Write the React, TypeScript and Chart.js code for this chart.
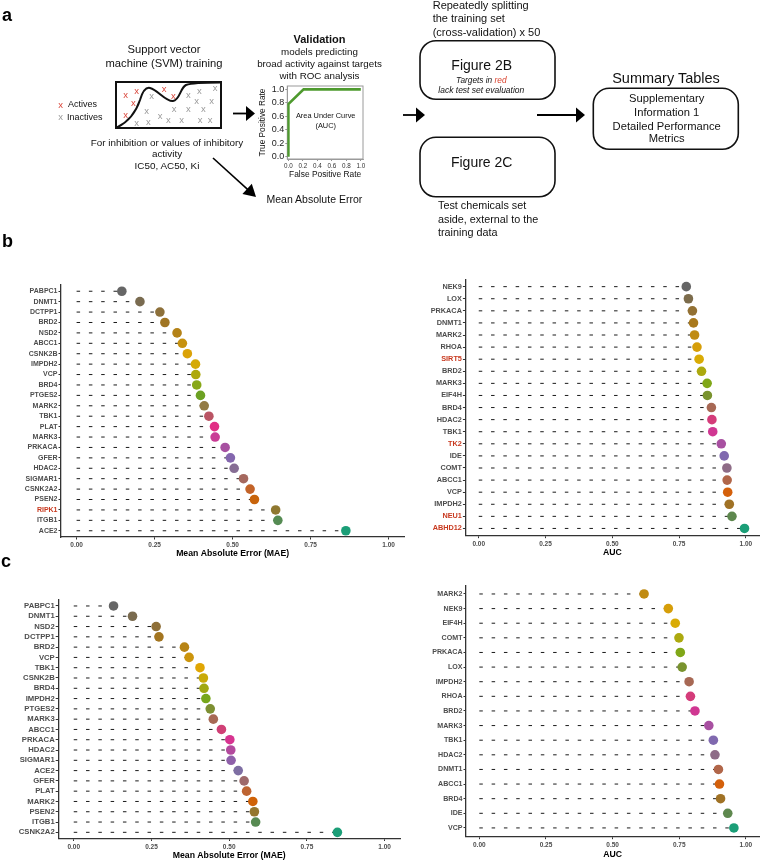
import React, { useEffect, useRef } from 'react';
import { Chart, registerables } from 'chart.js';

Chart.register(...registerables);

const FONT = "'Liberation Sans', Arial, Helvetica, sans-serif";
const GREY_TXT = '#4d4d4d';
const RED_TXT = '#c8391f';

// ---------- Panel b (cross-validation) ----------
const bMaeTargets = ['PABPC1', 'DNMT1', 'DCTPP1', 'BRD2', 'NSD2', 'ABCC1', 'CSNK2B', 'IMPDH2', 'VCP', 'BRD4', 'PTGES2', 'MARK2', 'TBK1', 'PLAT', 'MARK3', 'PRKACA', 'GFER', 'HDAC2', 'SIGMAR1', 'CSNK2A2', 'PSEN2', 'RIPK1', 'ITGB1', 'ACE2'];
const bMaeValues = [0.145, 0.203, 0.267, 0.283, 0.322, 0.339, 0.355, 0.381, 0.382, 0.385, 0.397, 0.409, 0.424, 0.442, 0.444, 0.476, 0.493, 0.505, 0.535, 0.556, 0.570, 0.638, 0.645, 0.863];

const bAucTargets = ['NEK9', 'LOX', 'PRKACA', 'DNMT1', 'MARK2', 'RHOA', 'SIRT5', 'BRD2', 'MARK3', 'EIF4H', 'BRD4', 'HDAC2', 'TBK1', 'TK2', 'IDE', 'COMT', 'ABCC1', 'VCP', 'IMPDH2', 'NEU1', 'ABHD12'];
const bAucValues = [0.777, 0.785, 0.800, 0.804, 0.808, 0.817, 0.825, 0.834, 0.855, 0.856, 0.871, 0.873, 0.876, 0.908, 0.919, 0.929, 0.930, 0.932, 0.938, 0.948, 0.995];

// ---------- Panel c (external test set) ----------
const cMaeTargets = ['PABPC1', 'DNMT1', 'NSD2', 'DCTPP1', 'BRD2', 'VCP', 'TBK1', 'CSNK2B', 'BRD4', 'IMPDH2', 'PTGES2', 'MARK3', 'ABCC1', 'PRKACA', 'HDAC2', 'SIGMAR1', 'ACE2', 'GFER', 'PLAT', 'MARK2', 'PSEN2', 'ITGB1', 'CSNK2A2'];
const cMaeValues = [0.128, 0.189, 0.265, 0.274, 0.356, 0.371, 0.406, 0.417, 0.419, 0.425, 0.439, 0.449, 0.475, 0.502, 0.505, 0.506, 0.529, 0.548, 0.556, 0.576, 0.581, 0.585, 0.848];

const cAucTargets = ['MARK2', 'NEK9', 'EIF4H', 'COMT', 'PRKACA', 'LOX', 'IMPDH2', 'RHOA', 'BRD2', 'MARK3', 'TBK1', 'HDAC2', 'DNMT1', 'ABCC1', 'BRD4', 'IDE', 'VCP'];
const cAucValues = [0.618, 0.709, 0.735, 0.749, 0.754, 0.761, 0.787, 0.792, 0.809, 0.861, 0.878, 0.884, 0.897, 0.901, 0.905, 0.932, 0.955];

const redTargets = ['RIPK1', 'SIRT5', 'TK2', 'NEU1', 'ABHD12'];
const xTickValues = [0, 0.25, 0.5, 0.75, 1];

// ---------- ROC inset (panel a) ----------
const rocFpr = [0, 0, 0.21, 1];
const rocTpr = [0, 0.78, 1, 1];
const rocTickValues = [0, 0.2, 0.4, 0.6, 0.8, 1];

// colour ramp stops (reversed Dark2)
const paletteStops = ['#666666', '#A6761D', '#E6AB02', '#66A61E', '#E7298A', '#7570B3', '#D95F02', '#1B9E77'];

function ramp(n: number): string[] {
  const cols = paletteStops.map((h) => [1, 3, 5].map((k) => parseInt(h.slice(k, k + 2), 16)));
  const out: string[] = [];
  for (let i = 0; i < n; i++) {
    const p = n === 1 ? 0 : (i / (n - 1)) * (cols.length - 1);
    const k = Math.min(Math.floor(p), cols.length - 2);
    const t = p - k;
    const c = cols[k].map((v, j) => Math.round(v + (cols[k + 1][j] - v) * t));
    out.push(`rgb(${c[0]},${c[1]},${c[2]})`);
  }
  return out;
}

type LollipopProps = {
  left: number; width: number;
  plotTop: number; plotBottom: number; bottom: number;
  yAxisWidth: number;
  targets: string[]; values: number[]; colors: string[];
  xTitle: string; labelSize: number;
};

const PAD_TOP = 8;

function Lollipop(p: LollipopProps) {
  const ref = useRef<HTMLCanvasElement>(null);
  const canvasTop = Math.floor(p.plotTop - PAD_TOP);
  const padTop = p.plotTop - canvasTop;
  const height = Math.round(p.bottom - canvasTop);
  const xAxisHeight = canvasTop + height - p.plotBottom;
  useEffect(() => {
    const n = p.targets.length;
    const axisGrid = { display: true, drawOnChartArea: false, drawTicks: true, tickLength: 2.5, color: '#333', lineWidth: 1 };
    const axisBorder = { display: true, color: '#333', width: 1.3 };
    const chart = new Chart(ref.current as HTMLCanvasElement, {
      type: 'scatter',
      data: {
        datasets: [
          {
            type: 'scatter',
            data: p.values.map((v, i) => ({ x: v, y: i })),
            pointRadius: 4.8,
            pointHoverRadius: 4.8,
            pointBackgroundColor: p.colors,
            pointBorderColor: p.colors,
            pointBorderWidth: 0,
          } as any,
          {
            type: 'line',
            data: p.values.flatMap((v, i) => [{ x: 0, y: i }, { x: v, y: i }, { x: null, y: null }]),
            borderColor: '#1a1a1a',
            borderWidth: 1,
            borderDash: [3.5, 8.8],
            pointRadius: 0,
            spanGaps: false,
            fill: false,
            tension: 0,
          } as any,
        ],
      },
      options: {
        animation: false,
        responsive: false,
        events: [],
        layout: { padding: { top: padTop, left: 0, right: 0, bottom: 0 } },
        plugins: { legend: { display: false }, tooltip: { enabled: false } },
        scales: {
          x: {
            type: 'linear', position: 'bottom', min: -0.05, max: 1.05,
            afterBuildTicks: (s: any) => { s.ticks = xTickValues.map((v) => ({ value: v })); },
            afterFit: (s: any) => { s.height = xAxisHeight; s.paddingLeft = 0; s.paddingRight = 0; },
            ticks: {
              callback: (v: any) => Number(v).toFixed(2),
              autoSkip: false, maxRotation: 0, padding: 2,
              color: GREY_TXT, font: { family: FONT, size: 6.5, weight: 'bold' },
            },
            grid: axisGrid,
            border: axisBorder,
            title: {
              display: true, text: p.xTitle, color: '#000',
              font: { family: FONT, size: 8.7, weight: 'bold' },
              padding: { top: 0, bottom: 0 },
            },
          },
          y: {
            type: 'linear', position: 'left', reverse: true, min: -0.6, max: n - 0.4,
            afterBuildTicks: (s: any) => { s.ticks = p.targets.map((_, i) => ({ value: i })); },
            afterFit: (s: any) => { s.width = p.yAxisWidth; s.paddingTop = 0; s.paddingBottom = 0; },
            ticks: {
              callback: (v: any) => p.targets[Math.round(Number(v))] ?? '',
              autoSkip: false, padding: 1,
              color: (ctx: any) => {
                const lab = p.targets[Math.round(Number(ctx.tick ? ctx.tick.value : ctx.index))];
                return redTargets.includes(lab) ? RED_TXT : GREY_TXT;
              },
              font: { family: FONT, size: p.labelSize, weight: 'bold' },
            },
            grid: axisGrid,
            border: axisBorder,
          },
        },
      } as any,
    });
    return () => chart.destroy();
  }, []);
  return (
    <canvas
      ref={ref}
      width={p.width}
      height={height}
      style={{ position: 'absolute', left: p.left, top: canvasTop, width: p.width, height }}
    />
  );
}

function RocInset() {
  const ref = useRef<HTMLCanvasElement>(null);
  useEffect(() => {
    const framePlugin = {
      id: 'rocFrame',
      beforeDatasetsDraw(chart: any) {
        const { ctx, chartArea: a } = chart;
        ctx.save();
        ctx.strokeStyle = '#9a9a9a';
        ctx.lineWidth = 1;
        ctx.strokeRect(a.left, a.top, a.right - a.left, a.bottom - a.top);
        ctx.restore();
      },
    };
    const grid = { display: true, drawOnChartArea: false, drawTicks: true, tickLength: 2, color: '#777', lineWidth: 0.8 };
    const border = { display: true, color: '#9a9a9a', width: 1 };
    const chart = new Chart(ref.current as HTMLCanvasElement, {
      type: 'scatter',
      data: {
        datasets: [
          {
            data: rocFpr.map((x, i) => ({ x, y: rocTpr[i] })),
            showLine: true,
            borderColor: '#4e9a2e',
            borderWidth: 2.6,
            pointRadius: 0,
            tension: 0,
          } as any,
        ],
      },
      options: {
        animation: false,
        responsive: false,
        events: [],
        layout: { padding: { top: 6, right: 3, left: 0, bottom: 0 } },
        plugins: { legend: { display: false }, tooltip: { enabled: false } },
        scales: {
          x: {
            type: 'linear', min: -0.015, max: 1.03,
            afterBuildTicks: (s: any) => { s.ticks = rocTickValues.map((v) => ({ value: v })); },
            afterFit: (s: any) => { s.height = 21; s.paddingLeft = 0; s.paddingRight = 0; },
            ticks: { callback: (v: any) => Number(v).toFixed(1), autoSkip: false, maxRotation: 0, padding: 1, color: '#333', font: { family: FONT, size: 6.3 } },
            grid, border,
            title: { display: true, text: 'False Positive Rate', color: '#111', font: { family: FONT, size: 8.4 }, padding: { top: 0, bottom: 0 } },
          },
          y: {
            type: 'linear', min: -0.035, max: 1.05,
            afterBuildTicks: (s: any) => { s.ticks = rocTickValues.map((v) => ({ value: v })); },
            afterFit: (s: any) => { s.width = 31.3; s.paddingTop = 0; s.paddingBottom = 0; },
            ticks: { callback: (v: any) => Number(v).toFixed(1), autoSkip: false, padding: 1, color: '#222', font: { family: FONT, size: 9 } },
            grid, border,
            title: { display: true, text: 'True Positive Rate', color: '#111', font: { family: FONT, size: 8.3 }, padding: { top: 2, bottom: 0 } },
          },
        },
      } as any,
      plugins: [framePlugin],
    });
    return () => chart.destroy();
  }, []);
  return (
    <canvas ref={ref} width={110} height={100} style={{ position: 'absolute', left: 256, top: 80, width: 110, height: 100 }} />
  );
}

function Arrow({ x1, y1, x2, y2, w = 1.6, hl = 10, hw = 7 }: { x1: number; y1: number; x2: number; y2: number; w?: number; hl?: number; hw?: number }) {
  const dx = x2 - x1, dy = y2 - y1;
  const L = Math.hypot(dx, dy);
  const ux = dx / L, uy = dy / L;
  const bx = x2 - ux * hl, by = y2 - uy * hl;
  const px = -uy, py = ux;
  return (
    <g>
      <line x1={x1} y1={y1} x2={bx + ux} y2={by + uy} stroke="#000" strokeWidth={w} />
      <polygon points={`${x2},${y2} ${bx + px * hw},${by + py * hw} ${bx - px * hw},${by - py * hw}`} fill="#000" />
    </g>
  );
}

const redX: [number, number][] = [[125.7, 94], [136.7, 90.7], [133.3, 102.7], [164, 88.3], [173.3, 95.7], [125.7, 114.3]];
const greyX: [number, number][] = [[151.7, 95.7], [188.3, 94], [199.3, 90.7], [215, 87.3], [196.7, 100.7], [211.7, 100], [146.7, 110.7], [174, 108.3], [188.3, 108.3], [203.3, 108.3], [160, 115.7], [168.3, 119], [181.7, 119], [200, 119], [210, 119], [136.7, 122.7], [148.3, 121.7]];

function Overlay() {
  const T = (props: any) => <text fontFamily={FONT} fill="#111" dominantBaseline="central" {...props} />;
  return (
    <svg width={769} height={867} style={{ position: 'absolute', left: 0, top: 0, pointerEvents: 'none' }}>
      {/* panel letters */}
      <text x={2} y={20.5} fontFamily={FONT} fontWeight="bold" fontSize={18} fill="#000">a</text>
      <text x={2} y={247} fontFamily={FONT} fontWeight="bold" fontSize={18} fill="#000">b</text>
      <text x={1} y={566.5} fontFamily={FONT} fontWeight="bold" fontSize={18} fill="#000">c</text>

      {/* SVM training */}
      <T x={164} y={49} fontSize={11.2} textAnchor="middle">Support vector</T>
      <T x={164} y={63} fontSize={11.2} textAnchor="middle">machine (SVM) training</T>
      <rect x={116} y={82} width={105} height={46} fill="#fff" stroke="#111" strokeWidth={2} />
      <path d="M117,127.5 C128,122 136,112 140,100 C143,90 146,87 150,88 C158,90 166,102 173,101 C180,100 180,88 186,85 C193,82.5 205,82.5 220,82.5" fill="none" stroke="#111" strokeWidth={2} />
      {redX.map(([x, y], i) => <T key={'r' + i} x={x} y={y} fontSize={9.5} textAnchor="middle" fill="#d9463a">x</T>)}
      {greyX.map(([x, y], i) => <T key={'g' + i} x={x} y={y} fontSize={9.5} textAnchor="middle" fill="#9a9a9a">x</T>)}
      <T x={60.5} y={104} fontSize={9.5} textAnchor="middle" fill="#d9463a">x</T>
      <T x={68} y={104} fontSize={9}>Actives</T>
      <T x={60.5} y={116.5} fontSize={9.5} textAnchor="middle" fill="#9a9a9a">x</T>
      <T x={67} y={116.5} fontSize={9}>Inactives</T>
      <T x={167} y={142} fontSize={9.9} textAnchor="middle">For inhibition or values of inhibitory</T>
      <T x={167} y={153.5} fontSize={9.9} textAnchor="middle">activity</T>
      <T x={167} y={165} fontSize={9.9} textAnchor="middle">IC50, AC50, Ki</T>
      <Arrow x1={213} y1={158} x2={256} y2={197} w={1.6} hl={12} hw={7} />
      <T x={266.5} y={198.5} fontSize={10.5}>Mean Absolute Error</T>
      <Arrow x1={233} y1={113.5} x2={255} y2={113.5} w={1.8} hl={9} hw={7.5} />

      {/* Validation */}
      <T x={319.5} y={39} fontSize={11} fontWeight="bold" textAnchor="middle">Validation</T>
      <T x={319.5} y={51.7} fontSize={9.8} textAnchor="middle">models predicting</T>
      <T x={319.5} y={63.3} fontSize={9.8} textAnchor="middle">broad activity against targets</T>
      <T x={319.5} y={75.7} fontSize={9.8} textAnchor="middle">with ROC analysis</T>
      <T x={325.7} y={115.7} fontSize={7.4} textAnchor="middle">Area Under Curve</T>
      <T x={325.7} y={125.7} fontSize={7.4} textAnchor="middle">(AUC)</T>

      {/* Figure 2B / 2C */}
      <Arrow x1={403} y1={115} x2={425} y2={115} w={1.8} hl={9} hw={7.5} />
      <T x={432.7} y={5} fontSize={11}>Repeatedly splitting</T>
      <T x={432.7} y={17.7} fontSize={11}>the training set</T>
      <T x={432.7} y={31.7} fontSize={11}>(cross-validation) x 50</T>
      <rect x={420} y={40.7} width={135} height={58.6} rx={16} ry={16} fill="none" stroke="#111" strokeWidth={1.6} />
      <T x={481.7} y={65} fontSize={14} textAnchor="middle">Figure 2B</T>
      <text x={481.3} y={80} fontFamily={FONT} fontSize={8.3} fontStyle="italic" textAnchor="middle" dominantBaseline="central" fill="#111">
        Targets in <tspan fill="#d9402b">red</tspan>
      </text>
      <T x={481.3} y={90} fontSize={8.5} fontStyle="italic" textAnchor="middle">lack test set evaluation</T>
      <rect x={420} y={137.3} width={135} height={59.5} rx={16} ry={16} fill="none" stroke="#111" strokeWidth={1.6} />
      <T x={481.7} y={161.7} fontSize={14} textAnchor="middle">Figure 2C</T>
      <T x={438} y={205} fontSize={10.8}>Test chemicals set</T>
      <T x={438} y={218.5} fontSize={10.8}>aside, external to the</T>
      <T x={438} y={232} fontSize={10.8}>training data</T>

      {/* Summary tables */}
      <Arrow x1={537} y1={115} x2={585} y2={115} w={1.8} hl={9} hw={7.5} />
      <T x={666} y={77.7} fontSize={14.5} textAnchor="middle">Summary Tables</T>
      <rect x={593.3} y={88.3} width={145} height={61} rx={16} ry={16} fill="none" stroke="#111" strokeWidth={1.6} />
      <T x={666.7} y={98.3} fontSize={11.2} textAnchor="middle">Supplementary</T>
      <T x={666.7} y={111.7} fontSize={11.2} textAnchor="middle">Information 1</T>
      <T x={666.7} y={125.7} fontSize={11.2} textAnchor="middle">Detailed Performance</T>
      <T x={666.7} y={138.3} fontSize={11.2} textAnchor="middle">Metrics</T>
    </svg>
  );
}

export default function App() {
  return (
    <div style={{ position: 'absolute', left: 0, top: 0, width: 769, height: 867, background: '#fff', overflow: 'hidden' }}>
      <RocInset />
      <Lollipop left={0} width={409} plotTop={285} plotBottom={537} bottom={559} yAxisWidth={61}
        targets={bMaeTargets} values={bMaeValues} colors={ramp(bMaeTargets.length)}
        xTitle="Mean Absolute Error (MAE)" labelSize={7} />
      <Lollipop left={410} width={354} plotTop={279.4} plotBottom={535.7} bottom={558} yAxisWidth={55.4}
        targets={bAucTargets} values={bAucValues} colors={ramp(bAucTargets.length)}
        xTitle="AUC" labelSize={7.3} />
      <Lollipop left={0} width={405} plotTop={599.8} plotBottom={838.5} bottom={861} yAxisWidth={58.2}
        targets={cMaeTargets} values={cMaeValues} colors={ramp(cMaeTargets.length)}
        xTitle="Mean Absolute Error (MAE)" labelSize={7.7} />
      <Lollipop left={410} width={354} plotTop={585.2} plotBottom={836.7} bottom={860} yAxisWidth={56}
        targets={cAucTargets} values={cAucValues} colors={ramp(21).slice(21 - cAucTargets.length)}
        xTitle="AUC" labelSize={7.1} />
      <Overlay />
    </div>
  );
}
